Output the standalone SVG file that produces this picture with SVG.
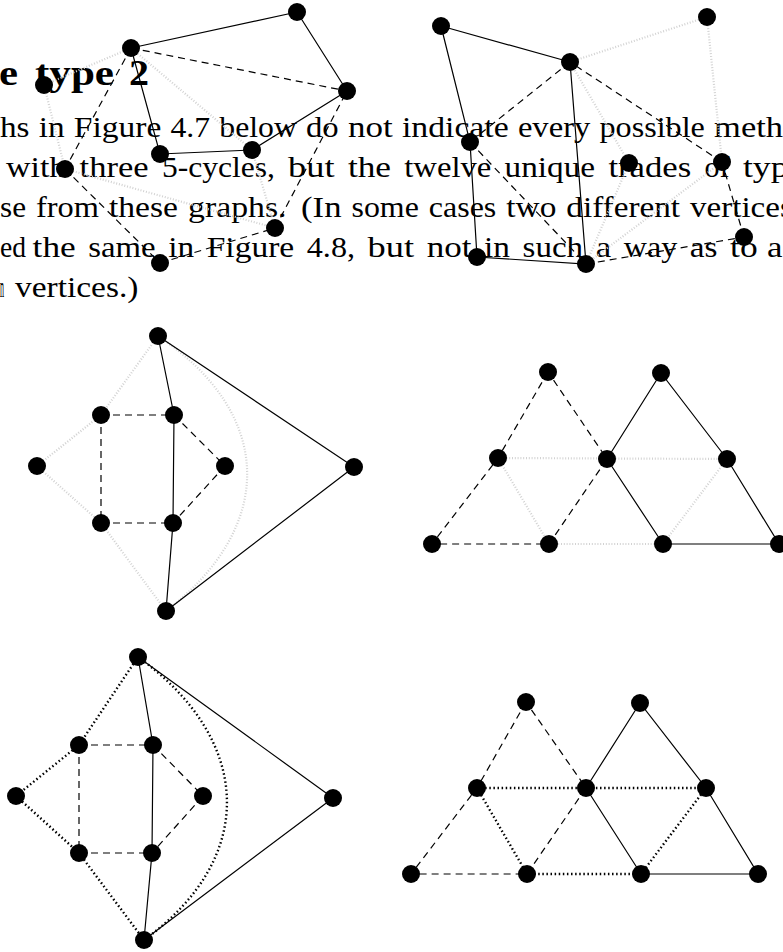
<svg xmlns="http://www.w3.org/2000/svg" width="783" height="952" viewBox="0 0 783 952">
<style>
.t{font-family:"Liberation Serif","Times New Roman",serif;font-size:30px;fill:#000}
.ttl{font-family:"Liberation Serif","Times New Roman",serif;font-size:35px;font-weight:bold;fill:#000}
.s{stroke:#000;stroke-width:1.2;fill:none}
.d{stroke:#000;stroke-width:1.2;fill:none;stroke-dasharray:7 5}
.l{stroke:#d2d2d2;stroke-width:2.2;fill:none;stroke-dasharray:1 1.8}
.b{stroke:#000;stroke-width:2.4;fill:none;stroke-dasharray:1.5 2.6}
.n{fill:#000}
</style>
<g id="text">
<text class="ttl" x="-1" y="85" textLength="19" lengthAdjust="spacingAndGlyphs">e</text>
<text class="ttl" x="35" y="85" textLength="79" lengthAdjust="spacingAndGlyphs">type</text>
<text class="ttl" x="129" y="85" textLength="20" lengthAdjust="spacingAndGlyphs">2</text>

<text class="t" x="0" y="137" textLength="29.5" lengthAdjust="spacingAndGlyphs">hs</text>
<text class="t" x="38.7" y="137" textLength="25.9" lengthAdjust="spacingAndGlyphs">in</text>
<text class="t" x="73.8" y="137" textLength="87.5" lengthAdjust="spacingAndGlyphs">Figure</text>
<text class="t" x="170.5" y="137" textLength="39.6" lengthAdjust="spacingAndGlyphs">4.7</text>
<text class="t" x="219.3" y="137" textLength="77.5" lengthAdjust="spacingAndGlyphs">below</text>
<text class="t" x="306" y="137" textLength="32.7" lengthAdjust="spacingAndGlyphs">do</text>
<text class="t" x="347.9" y="137" textLength="44.8" lengthAdjust="spacingAndGlyphs">not</text>
<text class="t" x="401.9" y="137" textLength="106.8" lengthAdjust="spacingAndGlyphs">indicate</text>
<text class="t" x="517.9" y="137" textLength="72.4" lengthAdjust="spacingAndGlyphs">every</text>
<text class="t" x="599.5" y="137" textLength="105.4" lengthAdjust="spacingAndGlyphs">possible</text>
<text class="t" x="714.1" y="137" textLength="68.9" lengthAdjust="spacingAndGlyphs">meth</text>

<text class="t" x="6" y="177" textLength="60.3" lengthAdjust="spacingAndGlyphs">with</text>
<text class="t" x="79.6" y="177" textLength="69" lengthAdjust="spacingAndGlyphs">three</text>
<text class="t" x="161.9" y="177" textLength="112.9" lengthAdjust="spacingAndGlyphs">5-cycles,</text>
<text class="t" x="288.1" y="177" textLength="46.5" lengthAdjust="spacingAndGlyphs">but</text>
<text class="t" x="347.9" y="177" textLength="43.1" lengthAdjust="spacingAndGlyphs">the</text>
<text class="t" x="404.3" y="177" textLength="87" lengthAdjust="spacingAndGlyphs">twelve</text>
<text class="t" x="504.6" y="177" textLength="90.5" lengthAdjust="spacingAndGlyphs">unique</text>
<text class="t" x="608.4" y="177" textLength="82.9" lengthAdjust="spacingAndGlyphs">trades</text>
<text class="t" x="704.6" y="177" textLength="25" lengthAdjust="spacingAndGlyphs">of</text>
<text class="t" x="742.9" y="177" textLength="45.7" lengthAdjust="spacingAndGlyphs">typ</text>

<text class="t" x="0" y="217" textLength="26" lengthAdjust="spacingAndGlyphs">se</text>
<text class="t" x="36" y="217" textLength="63" lengthAdjust="spacingAndGlyphs">from</text>
<text class="t" x="109" y="217" textLength="69" lengthAdjust="spacingAndGlyphs">these</text>
<text class="t" x="188" y="217" textLength="98.5" lengthAdjust="spacingAndGlyphs">graphs.</text>
<text class="t" x="301" y="217" textLength="40.5" lengthAdjust="spacingAndGlyphs">(In</text>
<text class="t" x="351.5" y="217" textLength="67.3" lengthAdjust="spacingAndGlyphs">some</text>
<text class="t" x="428.8" y="217" textLength="67.5" lengthAdjust="spacingAndGlyphs">cases</text>
<text class="t" x="506.3" y="217" textLength="50" lengthAdjust="spacingAndGlyphs">two</text>
<text class="t" x="566.3" y="217" textLength="113.8" lengthAdjust="spacingAndGlyphs">different</text>
<text class="t" x="690.1" y="217" textLength="102.7" lengthAdjust="spacingAndGlyphs">vertices</text>

<text class="t" x="0" y="257" textLength="26" lengthAdjust="spacingAndGlyphs">ed</text>
<text class="t" x="32.6" y="257" textLength="43.1" lengthAdjust="spacingAndGlyphs">the</text>
<text class="t" x="88.3" y="257" textLength="67.3" lengthAdjust="spacingAndGlyphs">same</text>
<text class="t" x="168.2" y="257" textLength="25.9" lengthAdjust="spacingAndGlyphs">in</text>
<text class="t" x="206.7" y="257" textLength="87.5" lengthAdjust="spacingAndGlyphs">Figure</text>
<text class="t" x="306.8" y="257" textLength="48.2" lengthAdjust="spacingAndGlyphs">4.8,</text>
<text class="t" x="367.6" y="257" textLength="46.5" lengthAdjust="spacingAndGlyphs">but</text>
<text class="t" x="426.7" y="257" textLength="44.8" lengthAdjust="spacingAndGlyphs">not</text>
<text class="t" x="484.1" y="257" textLength="25.9" lengthAdjust="spacingAndGlyphs">in</text>
<text class="t" x="522.6" y="257" textLength="60.5" lengthAdjust="spacingAndGlyphs">such</text>
<text class="t" x="595.7" y="257" textLength="15.5" lengthAdjust="spacingAndGlyphs">a</text>
<text class="t" x="623.8" y="257" textLength="53.4" lengthAdjust="spacingAndGlyphs">way</text>
<text class="t" x="689.8" y="257" textLength="27.7" lengthAdjust="spacingAndGlyphs">as</text>
<text class="t" x="730.1" y="257" textLength="27.6" lengthAdjust="spacingAndGlyphs">to</text>
<text class="t" x="767" y="257" textLength="15.5" lengthAdjust="spacingAndGlyphs">a</text>

<text class="t" x="0" y="297" textLength="4" lengthAdjust="spacingAndGlyphs">n</text>
<text class="t" x="15" y="297" textLength="123.4" lengthAdjust="spacingAndGlyphs">vertices.)</text>
</g>

<g id="connectors">
<!-- graph 1 (top left) -->
<path class="l" d="M131,48 L44,85 M44,85 L65,169 M65,169 L275,228 M275,228 L252,150 M252,150 L131,48"/>
<path class="s" d="M297,12 L131,48 M297,12 L347,91 M131,48 L160,154 L252,150 L347,91"/>
<path class="d" d="M131,48 L347,91 M131,48 L65,169 M65,169 L160,263 M160,263 L275,228 M275,228 L347,91"/>
<!-- graph 2 (top right) -->
<path class="l" d="M570,62 L707,17 M707,17 L722,162 M722,162 L586,264 M586,264 L629,163 M629,163 L570,62"/>
<path class="s" d="M441,26 L570,62 M441,26 L470,142 L477,257 L586,264 L570,62"/>
<path class="d" d="M570,62 L470,142 M470,142 L586,264 M586,264 L744,237 M744,237 L722,162 M722,162 L570,62"/>
<!-- graph 3 (middle left) -->
<path class="l" d="M158,336 L101,415 M101,415 L37,466 M37,466 L101,523 M101,523 L166,611 M158,336 C275,414 276,527 166,611"/>
<path class="s" d="M158,336 L174,415 L173,523 L166,611 M158,336 L354,467 L166,611"/>
<path class="d" d="M101,415 L174,415 M101,415 L101,523 L173,523 M174,415 L225,466 L173,523"/>
<!-- graph 4 (middle right) -->
<path class="l" d="M498,458 L727,459 M498,458 L549,544 L663,544 L727,459"/>
<path class="d" d="M548,372 L498,458 L432,544 L549,544 L607,459 L548,372"/>
<path class="s" d="M607,459 L661,373 L727,459 L779,544 L663,544 L607,459"/>
<!-- graph 5 (bottom left) -->
<path class="b" d="M138,657 L79,745 M79,745 L16,796 M16,796 L79,853 M79,853 L144,940 M138,657 C252,739 259,857 144,940"/>
<path class="s" d="M138,657 L153,745 L152,853 L144,940 M138,657 L333,798 L144,940"/>
<path class="d" d="M79,745 L153,745 M79,745 L79,853 L152,853 M153,745 L203,796 L152,853"/>
<!-- graph 6 (bottom right) -->
<path class="b" d="M477,788 L706,788 M477,788 L527,874 L641,874 L706,788"/>
<path class="d" d="M526,702 L477,788 L411,874 L527,874 L586,788 L526,702"/>
<path class="s" d="M586,788 L640,703 L706,788 L758,874 L641,874 L586,788"/>
</g>

<g id="g1-a"><circle class="n" cx="297" cy="12" r="9"/></g>
<g id="g1-b"><circle class="n" cx="131" cy="48" r="9"/></g>
<g id="g1-c"><circle class="n" cx="347" cy="91" r="9"/></g>
<g id="g1-d"><circle class="n" cx="44" cy="85" r="9"/></g>
<g id="g1-e"><circle class="n" cx="160" cy="154" r="9"/></g>
<g id="g1-f"><circle class="n" cx="252" cy="150" r="9"/></g>
<g id="g1-g"><circle class="n" cx="65" cy="169" r="9"/></g>
<g id="g1-h"><circle class="n" cx="160" cy="263" r="9"/></g>
<g id="g1-i"><circle class="n" cx="275" cy="228" r="9"/></g>

<g id="g2-p"><circle class="n" cx="441" cy="26" r="9"/></g>
<g id="g2-q"><circle class="n" cx="570" cy="62" r="9"/></g>
<g id="g2-r"><circle class="n" cx="707" cy="17" r="9"/></g>
<g id="g2-s"><circle class="n" cx="470" cy="142" r="9"/></g>
<g id="g2-t"><circle class="n" cx="629" cy="163" r="9"/></g>
<g id="g2-u"><circle class="n" cx="722" cy="162" r="9"/></g>
<g id="g2-v"><circle class="n" cx="477" cy="257" r="9"/></g>
<g id="g2-w"><circle class="n" cx="586" cy="264" r="9"/></g>
<g id="g2-x"><circle class="n" cx="744" cy="237" r="9"/></g>

<g id="g3-top"><circle class="n" cx="158" cy="336" r="9"/></g>
<g id="g3-ul"><circle class="n" cx="101" cy="415" r="9"/></g>
<g id="g3-ur"><circle class="n" cx="174" cy="415" r="9"/></g>
<g id="g3-left"><circle class="n" cx="37" cy="466" r="9"/></g>
<g id="g3-mr"><circle class="n" cx="225" cy="466" r="9"/></g>
<g id="g3-fr"><circle class="n" cx="354" cy="467" r="9"/></g>
<g id="g3-ll"><circle class="n" cx="101" cy="523" r="9"/></g>
<g id="g3-lr"><circle class="n" cx="173" cy="523" r="9"/></g>
<g id="g3-bot"><circle class="n" cx="166" cy="611" r="9"/></g>

<g id="g4-t1"><circle class="n" cx="548" cy="372" r="9"/></g>
<g id="g4-t2"><circle class="n" cx="661" cy="373" r="9"/></g>
<g id="g4-m1"><circle class="n" cx="498" cy="458" r="9"/></g>
<g id="g4-m2"><circle class="n" cx="607" cy="459" r="9"/></g>
<g id="g4-m3"><circle class="n" cx="727" cy="459" r="9"/></g>
<g id="g4-b1"><circle class="n" cx="432" cy="544" r="9"/></g>
<g id="g4-b2"><circle class="n" cx="549" cy="544" r="9"/></g>
<g id="g4-b3"><circle class="n" cx="663" cy="544" r="9"/></g>
<g id="g4-b4"><circle class="n" cx="779" cy="544" r="9"/></g>

<g id="g5-top"><circle class="n" cx="138" cy="657" r="9"/></g>
<g id="g5-ul"><circle class="n" cx="79" cy="745" r="9"/></g>
<g id="g5-ur"><circle class="n" cx="153" cy="745" r="9"/></g>
<g id="g5-left"><circle class="n" cx="16" cy="796" r="9"/></g>
<g id="g5-mr"><circle class="n" cx="203" cy="796" r="9"/></g>
<g id="g5-fr"><circle class="n" cx="333" cy="798" r="9"/></g>
<g id="g5-ll"><circle class="n" cx="79" cy="853" r="9"/></g>
<g id="g5-lr"><circle class="n" cx="152" cy="853" r="9"/></g>
<g id="g5-bot"><circle class="n" cx="144" cy="940" r="9"/></g>

<g id="g6-t1"><circle class="n" cx="526" cy="702" r="9"/></g>
<g id="g6-t2"><circle class="n" cx="640" cy="703" r="9"/></g>
<g id="g6-m1"><circle class="n" cx="477" cy="788" r="9"/></g>
<g id="g6-m2"><circle class="n" cx="586" cy="788" r="9"/></g>
<g id="g6-m3"><circle class="n" cx="706" cy="788" r="9"/></g>
<g id="g6-b1"><circle class="n" cx="411" cy="874" r="9"/></g>
<g id="g6-b2"><circle class="n" cx="527" cy="874" r="9"/></g>
<g id="g6-b3"><circle class="n" cx="641" cy="874" r="9"/></g>
<g id="g6-b4"><circle class="n" cx="758" cy="874" r="9"/></g>
</svg>
